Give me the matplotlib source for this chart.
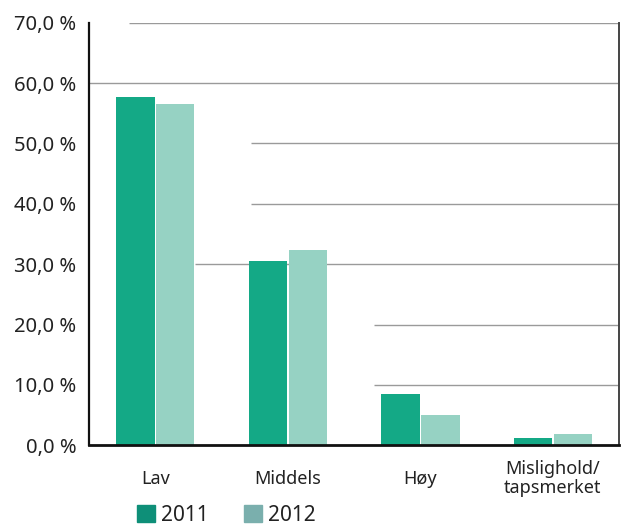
import matplotlib.pyplot as plt
import numpy as np
from matplotlib.patches import Patch

categories = ["Lav", "Middels", "Høy", "Mislighold/\ntapsmerket"]
years = ["2011", "2012"]
share_2011 = [57.7, 30.6, 8.5, 1.2]
share_2012 = [56.5, 32.4, 5.0, 1.8]
grid_levels = [10, 20, 30, 40, 50, 60, 70]
grid_starts = [1.65, 1.65, 0.30, 0.72, 0.72, -0.5, -0.2]

bar_colors = ["#14a986", "#96d2c3"]
legend_colors = ["#0e8f78", "#7aafad"]
text_color = "#222222"

plt.rcParams["font.family"] = ["Noto Sans", "DejaVu Sans"]

fig = plt.figure(figsize=(6.23, 5.30), dpi=100)
ax = fig.add_axes([0.143, 0.160, 0.851, 0.797])

x = np.arange(len(categories))
width = 0.29
ax.hlines(grid_levels, grid_starts, 3.5, colors="#9a9a9a", lw=1.0, zorder=1)
ax.bar(x - width / 2 - 0.005, share_2011, width, color=bar_colors[0], zorder=2)
ax.bar(x + width / 2 + 0.005, share_2012, width, color=bar_colors[1], zorder=2)

ax.set_xlim(-0.5, 3.5)
ax.set_ylim(0, 70)
ax.set_yticks(np.arange(0, 71, 10))
ax.set_yticklabels([f"{v:.1f} %".replace(".", ",") for v in np.arange(0, 71, 10)],
                   fontsize=14.5)
ax.set_xticks(x)
ax.set_xticklabels(categories, linespacing=1.1, fontsize=13, va="center")
ax.tick_params(axis="both", length=0, colors=text_color)
ax.tick_params(axis="x", pad=24)
ax.tick_params(axis="y", pad=9)

ax.spines["top"].set_visible(False)
ax.spines["left"].set_color("#111111")
ax.spines["left"].set_linewidth(1.6)
ax.spines["bottom"].set_color("#111111")
ax.spines["bottom"].set_linewidth(2.0)
ax.spines["right"].set_color("#444444")
ax.spines["right"].set_linewidth(1.4)

handles = [Patch(color=c, label=y) for c, y in zip(legend_colors, years)]
fig.legend(handles=handles, loc="center left", bbox_to_anchor=(0.19, 0.028),
           ncol=2, frameon=False, fontsize=15, handlelength=0.85, handleheight=0.85,
           handletextpad=0.3, columnspacing=1.7, labelcolor=text_color)

fig.savefig("out.png", dpi=100)
